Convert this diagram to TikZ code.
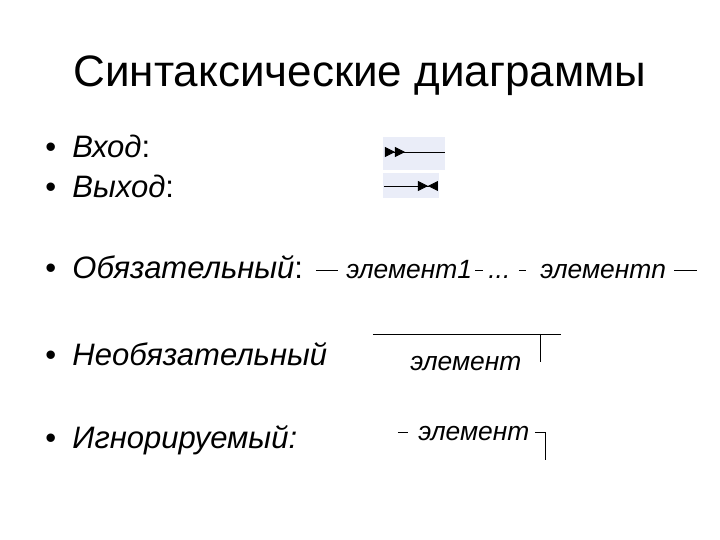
\documentclass[tikz,border=0pt]{standalone}
\usepackage{fontspec}
\setmainfont{Liberation Sans}
\usetikzlibrary{arrows.meta,positioning}
\definecolor{mybg}{RGB}{234,237,248}

\begin{document}
\begin{tikzpicture}[x=0.5pt,y=-0.5pt,thin,
  item/.style={anchor=base west,inner sep=0pt,font=\fontsize{15.5}{18}\selectfont},
  elem/.style={anchor=base west,inner sep=0pt,font=\fontsize{13.2}{15}\selectfont\itshape},
  entry/.style={{Triangle[reversed,length=5pt,width=5pt]Triangle[reversed,length=5pt,width=5pt]}-},
  exit/.style={-{Triangle[length=5pt,width=5pt]Triangle[reversed,length=5pt,width=5pt]}}
]
\useasboundingbox (0,0) rectangle (720,540);

% the title
\node[anchor=base,inner sep=0pt,font=\fontsize{22}{26}\selectfont] (title) at (360,87) {Синтаксические диаграммы};

% the bullets
\foreach \i/\ycoord/\txt in {1/158/{\textit{Вход}:},2/198/{\textit{Выход}:},3/279/{\textit{Обязательный}:},4/366/{\textit{Необязательный}},5/449/{\textit{Игнорируемый:}}}
{
  \node[item] (b\i) at (45,\ycoord) {•};
  \node[item] (t\i) at (72,\ycoord) {\txt};
}

% entry and exit
\fill[mybg] (383,137) rectangle (445,170);
\fill[mybg] (383,173) rectangle (439,198);
\coordinate (in1) at (385,152);
\coordinate (in2) at (445,152);
\coordinate (out1) at (384,186);
\coordinate (out2) at (438,186);
\draw[entry] (in1) -- (in2);
\draw[exit] (out1) -- (out2);

% the required sequence
\node[elem] (e1) at (346,279) {элемент1};
\node[elem] (dots) at (488,279) {...};
\node[elem] (en) at (540,279) {элементn};
\coordinate (r1) at (316,270);
\coordinate (r2) at (697,270);
\draw[shorten >=4pt] (r1) -- (e1.west |- r1);
\draw[shorten <=1.5pt,shorten >=2.5pt] (e1.east |- r1) -- (dots.west |- r1);
\draw[shorten <=4pt,shorten >=7pt] (dots.east |- r1) -- (en.west |- r1);
\draw[shorten <=4pt] (en.east |- r1) -- (r2);

% the optional element
\node[elem] (opt) at (410,371) {элемент};
\coordinate (o1) at (373,334);
\coordinate (o2) at (561,334);
\coordinate (o3) at (540,334);
\coordinate (o4) at (540,362);
\draw (o1) -- (o2);
\draw (o3) -- (o4);

% the ignored element
\node[elem] (ign) at (418,441) {элемент};
\coordinate (g1) at (398,432);
\coordinate (g2) at (545,432);
\coordinate (g3) at (545,460);
\draw[shorten >=5pt] (g1) -- (ign.west |- g1);
\draw[shorten <=2.5pt] (ign.east |- g1) -- (g2) -- (g3);
\end{tikzpicture}
\end{document}
